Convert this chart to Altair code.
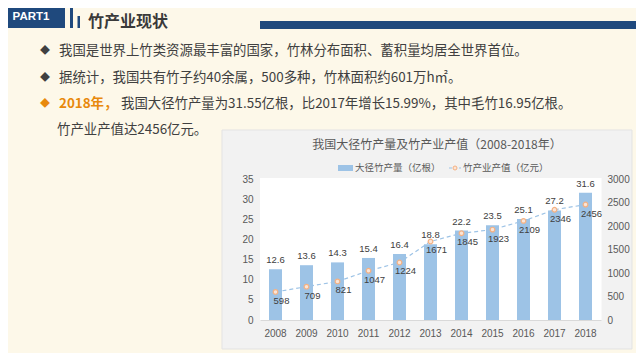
import altair as alt
import pandas as pd

years = ["2008", "2009", "2010", "2011", "2012", "2013", "2014", "2015", "2016", "2017", "2018"]
production = [12.6, 13.6, 14.3, 15.4, 16.4, 18.8, 22.2, 23.5, 25.1, 27.2, 31.6]
output_value = [598, 709, 821, 1047, 1224, 1671, 1845, 1923, 2109, 2346, 2456]
left_ticks = [0, 5, 10, 15, 20, 25, 30, 35]
right_ticks = [0, 500, 1000, 1500, 2000, 2500, 3000]

chart_title = "我国大径竹产量及竹产业产值（2008-2018年）"
legend_bar = "大径竹产量（亿根）"
legend_line = "竹产业产值（亿元）"
slide_part = "PART1"
slide_title = "竹产业现状"
bullet1 = "我国是世界上竹类资源最丰富的国家，竹林分布面积、蓄积量均居全世界首位。"
bullet2 = "据统计，我国共有竹子约40余属，500多种，竹林面积约601万h㎡。"
bullet3a = "2018年，"
bullet3b = "我国大径竹产量为31.55亿根，比2017年增长15.99%，其中毛竹16.95亿根。"
bullet4 = "竹产业产值达2456亿元。"

df = pd.DataFrame({"year": years, "prod": production, "val": output_value})

CJK = "Noto Sans CJK SC"
NUM = "Liberation Sans"
OX, OY = 260, 179  # page position of the plot origin
BLUE = "#9DC3E6"
DARK = "#1F497D"
TXT = "#404040"
AX = "#595959"
ORANGE = "#E8890C"

one = alt.Data(values=[{"a": 1}])


def rect(x1, x2, y1, y2, color, stroke=None):
    kw = dict(color=color)
    if stroke:
        kw.update(stroke=stroke, strokeWidth=1)
    return alt.Chart(one).mark_rect(**kw).encode(
        x=alt.value(x1 - OX), x2=alt.value(x2 - OX),
        y=alt.value(y1 - OY), y2=alt.value(y2 - OY))


def txt(x, y, s, size, color, weight="normal", align="left", font=CJK):
    return alt.Chart(one).mark_text(
        text=s, align=align, baseline="middle", fontSize=size, color=color,
        fontWeight=weight, font=font).encode(
        x=alt.value(x - OX), y=alt.value(y - OY))


decor = [
    rect(222, 632, 130, 349, "#F2F2F2", stroke="#E3E3E3"),
    rect(260, 601.5, 178, 320.5, "#FFFFFF"),
    rect(0, 65, 6, 28, DARK),
    rect(70, 73, 6, 28, DARK),
    rect(77.5, 80, 16, 28, DARK),
    rect(260, 644, 21, 29, DARK),
    txt(31, 16.5, slide_part, 11.5, "#FFFFFF", weight="bold", align="center", font=NUM),
    txt(88, 21.5, slide_title, 16, "#3A3A3A", weight="bold"),
    txt(45, 51, "◆", 10, TXT, align="center"),
    txt(59, 51, bullet1, 13.4, TXT),
    txt(45, 77.5, "◆", 10, TXT, align="center"),
    txt(59, 77.5, bullet2, 13.4, TXT),
    txt(45, 104, "◆", 10, ORANGE, align="center"),
    txt(59, 104, bullet3a, 13.4, ORANGE, weight="bold"),
    txt(121, 104, bullet3b, 13.4, TXT),
    txt(57, 130, bullet4, 13.4, TXT),
    txt(437, 145, chart_title, 12, AX, align="center"),
    rect(338, 353, 165, 171, BLUE),
    txt(355, 168, legend_bar, 9.5, AX),
]

xaxis = alt.Axis(labelAngle=0, ticks=False, domainColor="#D9D9D9",
                 labelColor=AX, labelFont=NUM, labelFontSize=10,
                 labelPadding=8, zindex=1)
xenc = alt.X("year:N", sort=years, title=None,
             scale=alt.Scale(paddingInner=0, paddingOuter=0), axis=xaxis)

laxis = alt.Axis(values=left_ticks, tickCount=8, grid=False, format="d",
                 domain=False, ticks=False, labelColor=AX,
                 labelFont=NUM, labelFontSize=10, labelPadding=7,
                 labelOverlap=False, labelFlush=False, zindex=1)
raxis = alt.Axis(orient="right", values=right_ticks, tickCount=7, format="d",
                 grid=False, domain=False, ticks=False, labelColor=AX,
                 labelFont=NUM, labelFontSize=10, labelPadding=6,
                 labelOverlap=False, labelFlush=False, zindex=1)
yl = alt.Y("prod:Q", title=None, scale=alt.Scale(domain=[0, 35], nice=False), axis=laxis)
yr = alt.Y("val:Q", title=None, scale=alt.Scale(domain=[0, 3000], nice=False), axis=raxis)

base = alt.Chart(df)

bars = base.mark_bar(size=13, color=BLUE).encode(x=xenc, y=yl)
bar_text = base.mark_text(dy=-9, baseline="middle", fontSize=9.5, font=NUM,
                          color=TXT).encode(
    x=xenc, y=yl, text=alt.Text("prod:Q", format=".1f"))

left = alt.layer(*decor, bars, bar_text)

line = base.mark_line(color=BLUE, strokeDash=[4, 3], strokeWidth=1.2).encode(
    x=xenc, y=yr)
pts = base.mark_point(shape="circle", filled=True, fill="#FBE5D6", stroke="#F4B183",
                      strokeWidth=1.2, size=22, opacity=1).encode(x=xenc, y=yr)
line_text = base.mark_text(dx=6, dy=9, baseline="middle", fontSize=9.5, font=NUM,
                           color=TXT).encode(x=xenc, y=yr, text=alt.Text("val:Q"))

legend_line_sym = alt.Chart(one).mark_rule(color=BLUE, strokeDash=[3, 2]).encode(
    x=alt.value(449 - OX), x2=alt.value(461 - OX), y=alt.value(168 - OY))
legend_pt = alt.Chart(one).mark_point(shape="circle", filled=True, fill="#FBE5D6",
                                      stroke="#F4B183", strokeWidth=1, size=16,
                                      opacity=1).encode(
    x=alt.value(455 - OX), y=alt.value(168 - OY))
legend_txt = txt(463, 168, legend_line, 9.5, AX)

right = alt.layer(line, pts, line_text, legend_line_sym, legend_pt, legend_txt)

chart = alt.layer(left, right).resolve_scale(y="independent").properties(
    width=341, height=141,
    autosize=alt.AutoSizeParams(type="none"),
    padding={"left": 252, "top": 171, "right": 35, "bottom": 33},
).configure(background="#FDF8E9").configure_view(stroke=None)

chart.save("out.html", embed_options={"renderer": "svg", "actions": False})
